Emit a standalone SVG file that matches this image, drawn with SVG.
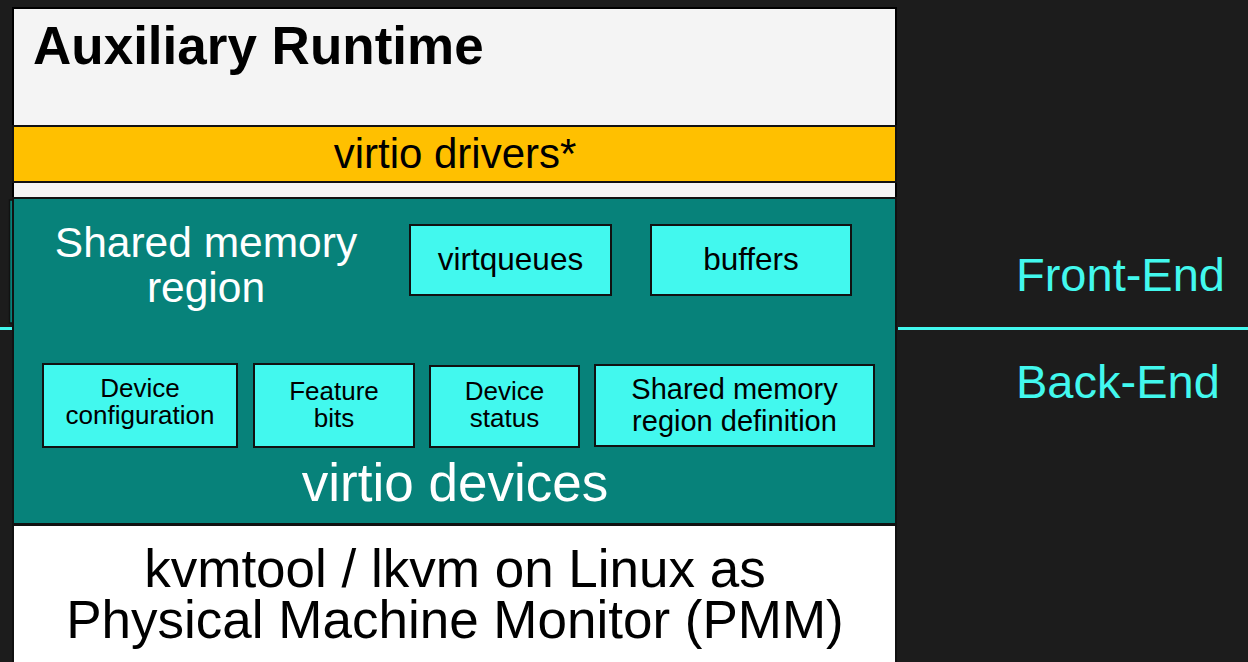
<svg xmlns="http://www.w3.org/2000/svg" width="1248" height="662" viewBox="0 0 1248 662">
  <style>
    .sans { font-family: "Liberation Sans", Arial, sans-serif; }
    .box { fill: #42f8ee; stroke: #111; stroke-width: 2; }
    .boxtxt { font-family: "Liberation Sans", Arial, sans-serif; fill: #000; text-anchor: middle; }
    .white { fill: #ffffff; }
    .side { font-family: "Liberation Sans", Arial, sans-serif; fill: #42f8ee; font-size: 47px; }
  </style>

  <!-- background -->
  <rect x="0" y="0" width="1248" height="662" fill="#1c1c1c"/>

  <!-- front-end / back-end divider -->
  <g id="divider">
    <line x1="0" y1="328.5" x2="12" y2="328.5" stroke="#42f8ee" stroke-width="3"/>
    <line x1="898" y1="328.5" x2="1248" y2="328.5" stroke="#42f8ee" stroke-width="3"/>
  </g>

  <!-- auxiliary runtime layer -->
  <g id="aux-runtime">
    <rect x="13" y="8" width="883" height="660" fill="#f4f4f4" stroke="#000" stroke-width="2"/>
    <text x="33" y="64" class="sans" font-size="53" font-weight="bold" fill="#000">Auxiliary Runtime</text>
  </g>

  <!-- virtio drivers bar -->
  <g id="virtio-drivers">
    <rect x="13" y="126" width="883" height="56" fill="#ffc000" stroke="#111" stroke-width="2"/>
    <text x="455" y="168" class="sans" font-size="42" text-anchor="middle" fill="#000">virtio drivers*</text>
  </g>

  <!-- virtio devices -->
  <g id="virtio-devices">
    <rect x="9.5" y="200" width="4" height="123" fill="#07827a" stroke="#111" stroke-width="1.5"/>
    <rect x="13" y="198" width="883" height="326" fill="#07827a" stroke="#111" stroke-width="2"/>
    <text x="206" y="257" class="sans white" font-size="42.5" text-anchor="middle">Shared memory</text>
    <text x="206" y="302" class="sans white" font-size="42.5" text-anchor="middle">region</text>
    <text x="455" y="501" class="sans white" font-size="53" text-anchor="middle">virtio devices</text>
  </g>

  <g id="virtqueues">
    <rect class="box" x="410" y="225" width="201" height="70"/>
    <text class="boxtxt" x="510.5" y="270" font-size="31.5">virtqueues</text>
  </g>

  <g id="buffers">
    <rect class="box" x="651" y="225" width="200" height="70"/>
    <text class="boxtxt" x="751" y="270" font-size="31.5">buffers</text>
  </g>

  <g id="device-configuration">
    <rect class="box" x="43" y="364" width="194" height="83"/>
    <text class="boxtxt" x="140" y="397" font-size="26">Device</text>
    <text class="boxtxt" x="140" y="424" font-size="26">configuration</text>
  </g>

  <g id="feature-bits">
    <rect class="box" x="254" y="364" width="160" height="83"/>
    <text class="boxtxt" x="334" y="400" font-size="26">Feature</text>
    <text class="boxtxt" x="334" y="427" font-size="26">bits</text>
  </g>

  <g id="device-status">
    <rect class="box" x="430" y="366" width="149" height="81"/>
    <text class="boxtxt" x="504.5" y="400" font-size="26">Device</text>
    <text class="boxtxt" x="504.5" y="427" font-size="26">status</text>
  </g>

  <g id="shm-region-definition">
    <rect class="box" x="595" y="365" width="279" height="81"/>
    <text class="boxtxt" x="734.5" y="399" font-size="29">Shared memory</text>
    <text class="boxtxt" x="734.5" y="431" font-size="29">region definition</text>
  </g>

  <!-- physical machine monitor -->
  <g id="pmm">
    <rect x="13" y="525" width="883" height="140" fill="#ffffff" stroke="#111" stroke-width="2"/>
    <text x="455" y="587" class="sans" font-size="53" text-anchor="middle" fill="#000">kvmtool / lkvm on Linux as</text>
    <text x="455" y="638" class="sans" font-size="53" text-anchor="middle" fill="#000">Physical Machine Monitor (PMM)</text>
  </g>

  <!-- side labels -->
  <g id="front-end">
    <text class="side" x="1016" y="291">Front-End</text>
  </g>
  <g id="back-end">
    <text class="side" x="1016" y="398">Back-End</text>
  </g>
</svg>
